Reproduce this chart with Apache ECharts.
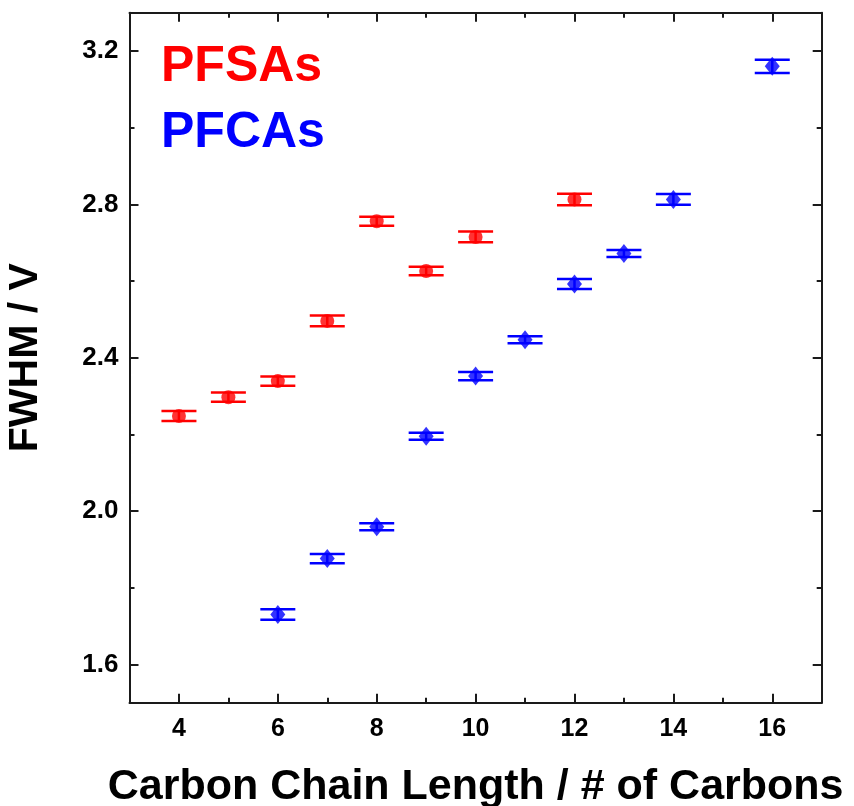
<!DOCTYPE html>
<html>
<head>
<meta charset="utf-8">
<script src="https://cdn.jsdelivr.net/npm/echarts@6/dist/echarts.min.js"></script>
<style>
  html, body { margin: 0; padding: 0; background: #fff; }
  #chart { width: 854px; height: 806px; }
</style>
</head>
<body>
<div id="chart"></div>
<script>
// Perfluorosulfonic acids (PFSAs)
const pfsaCarbons = [4, 5, 6, 7, 8, 9, 10, 12];
const pfsaFwhm    = [2.248, 2.297, 2.339, 2.496, 2.756, 2.626, 2.715, 2.813];
const pfsaErr     = [0.013, 0.012, 0.012, 0.014, 0.012, 0.011, 0.014, 0.015];

// Perfluorocarboxylic acids (PFCAs)
const pfcaCarbons = [6, 7, 8, 9, 10, 11, 12, 13, 14, 16];
const pfcaFwhm    = [1.730, 1.876, 1.959, 2.195, 2.352, 2.447, 2.592, 2.672, 2.813, 3.160];
const pfcaErr     = [0.0135, 0.012, 0.009, 0.009, 0.011, 0.009, 0.013, 0.009, 0.014, 0.017];

// Tick positions
const xMajorTicks = [4, 6, 8, 10, 12, 14, 16];
const xMinorTicks = [5, 7, 9, 11, 13, 15];
const yMajorTicks = [1.6, 2.0, 2.4, 2.8, 3.2];
const yMinorTicks = [1.8, 2.2, 2.6, 3.0];

const FONT = '"Liberation Sans", Arial, Helvetica, sans-serif';
const AXIS_COLOR = '#1a1a1a';
const RED = '#ff0000';
const BLUE = '#0000ff';

function pairs(xs, ys) { return xs.map((x, i) => [x, ys[i]]); }
function errRows(xs, ys, es) { return xs.map((x, i) => [x, ys[i] - es[i], ys[i] + es[i]]); }

function tickAxis(kind, position, ticks, length, withLine) {
  return {
    type: 'value', position: position,
    min: kind === 'x' ? 3 : 1.5, max: kind === 'x' ? 17 : 3.3,
    axisLine: { show: withLine, onZero: false, lineStyle: { color: AXIS_COLOR, width: 2 } },
    axisTick: { show: true, inside: true, length: length, customValues: ticks,
                lineStyle: { color: AXIS_COLOR, width: 2 } },
    axisLabel: { show: false },
    splitLine: { show: false }
  };
}

function errorBarSeries(rows, color) {
  return {
    type: 'custom', xAxisIndex: 0, yAxisIndex: 0, z: 1,
    data: rows,
    encode: { x: 0, y: [1, 2] },
    renderItem: function (params, api) {
      const x = api.value(0);
      const lo = api.coord([x, api.value(1)]);
      const hi = api.coord([x, api.value(2)]);
      const hw = 17.5;
      const st = { stroke: color, lineWidth: 2.5 };
      return {
        type: 'group',
        children: [
          { type: 'line', shape: { x1: lo[0] - hw, y1: lo[1], x2: lo[0] + hw, y2: lo[1] }, style: st },
          { type: 'line', shape: { x1: hi[0] - hw, y1: hi[1], x2: hi[0] + hw, y2: hi[1] }, style: st },
          { type: 'line', shape: { x1: lo[0], y1: lo[1], x2: hi[0], y2: hi[1] }, style: st }
        ]
      };
    }
  };
}

const xBottom = tickAxis('x', 'bottom', xMajorTicks, 9, true);
xBottom.axisLabel = {
  show: true, customValues: xMajorTicks, margin: 14,
  color: '#000', fontFamily: FONT, fontWeight: 'bold', fontSize: 25
};
xBottom.name = 'Carbon Chain Length / # of Carbons';
xBottom.nameLocation = 'middle';
xBottom.nameGap = 63;
xBottom.nameTextStyle = { color: '#000', fontFamily: FONT, fontWeight: 'bold', fontSize: 43 };

const yLeft = tickAxis('y', 'left', yMajorTicks, 9, true);
yLeft.axisLabel = {
  show: true, customValues: yMajorTicks, margin: 11,
  color: '#000', fontFamily: FONT, fontWeight: 'bold', fontSize: 26,
  formatter: v => v.toFixed(1)
};
yLeft.name = 'FWHM / V';
yLeft.nameLocation = 'middle';
yLeft.nameGap = 83;
yLeft.nameTextStyle = { color: '#000', fontFamily: FONT, fontWeight: 'bold', fontSize: 41 };

const option = {
  animation: false,
  backgroundColor: '#ffffff',
  grid: { left: 129.5, right: 32.3, top: 12.7, bottom: 103.3,
          containLabel: false, outerBoundsMode: 'none' },
  xAxis: [
    xBottom,
    tickAxis('x', 'bottom', xMinorTicks, 5, false),
    tickAxis('x', 'top', xMajorTicks, 9, true),
    tickAxis('x', 'top', xMinorTicks, 5, false)
  ],
  yAxis: [
    yLeft,
    tickAxis('y', 'left', yMinorTicks, 5, false),
    tickAxis('y', 'right', yMajorTicks, 9, true),
    tickAxis('y', 'right', yMinorTicks, 5, false)
  ],
  graphic: [
    { type: 'text', left: 161, top: 42, z: 10,
      style: { text: 'PFSAs', fill: RED, font: 'bold 50px ' + FONT } },
    { type: 'text', left: 161, top: 108, z: 10,
      style: { text: 'PFCAs', fill: BLUE, font: 'bold 50px ' + FONT } }
  ],
  series: [
    errorBarSeries(errRows(pfsaCarbons, pfsaFwhm, pfsaErr), RED),
    errorBarSeries(errRows(pfcaCarbons, pfcaFwhm, pfcaErr), BLUE),
    { name: 'PFSAs', type: 'scatter', xAxisIndex: 0, yAxisIndex: 0, z: 2,
      symbol: 'circle', symbolSize: 14, itemStyle: { color: RED },
      data: pairs(pfsaCarbons, pfsaFwhm) },
    { name: 'PFCAs', type: 'scatter', xAxisIndex: 0, yAxisIndex: 0, z: 2,
      symbol: 'diamond', symbolSize: [15, 19], itemStyle: { color: BLUE },
      data: pairs(pfcaCarbons, pfcaFwhm) }
  ]
};

const chart = echarts.init(document.getElementById('chart'), null, { renderer: 'canvas' });
chart.setOption(option);
</script>
</body>
</html>
